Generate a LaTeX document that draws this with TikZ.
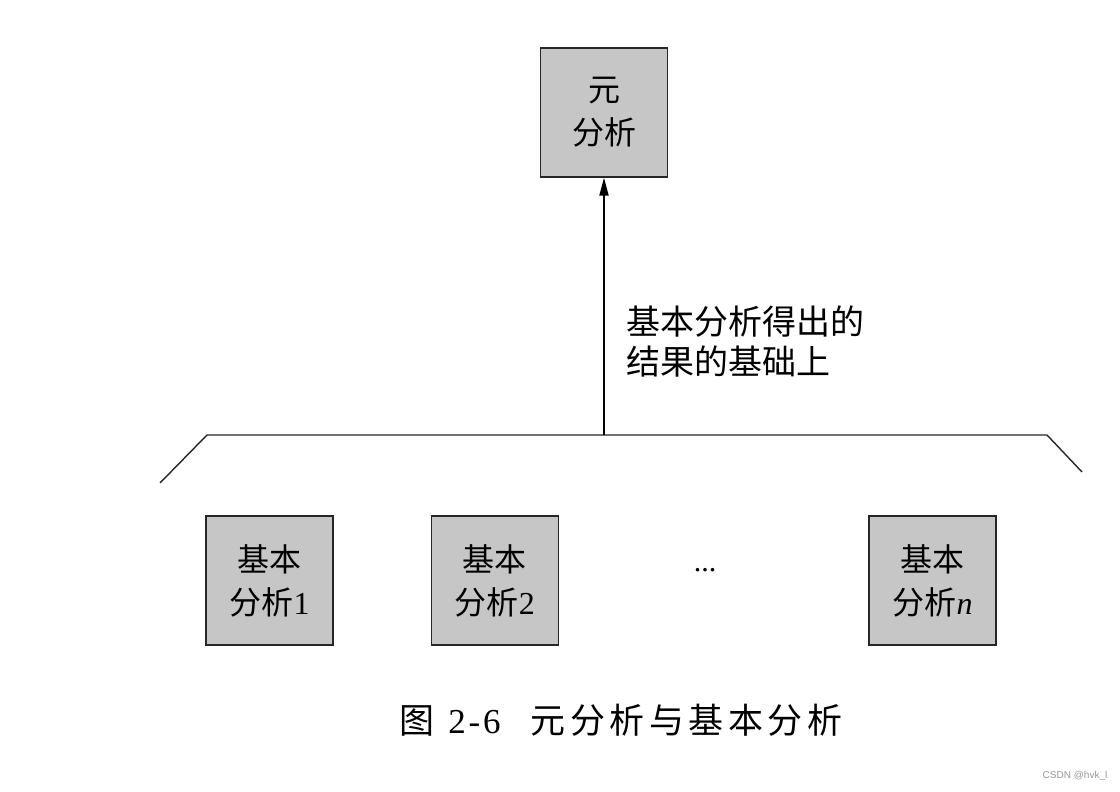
\documentclass[tikz,border=0pt]{standalone}
\usepackage{fontspec}
\newfontfamily\cjk{Noto Sans CJK SC}
\newfontfamily\cjkcap[LetterSpace=13]{Noto Sans CJK SC}
\newfontfamily\latin{Liberation Serif}
\newfontfamily\latincap[LetterSpace=8]{Liberation Serif}
\newfontfamily\wmfont{Liberation Sans}
\usetikzlibrary{arrows.meta,positioning}
\definecolor{boxgrey}{RGB}{198,198,198}
\definecolor{wmgrey}{RGB}{150,150,150}
\tikzset{
  blk/.style={draw=black!85, fill=boxgrey, line width=1.3pt,
              minimum width=127pt, minimum height=129pt, inner sep=0pt,
              align=center, font=\cjk\fontsize{32}{43}\selectfont},
  lbl/.style={align=left, inner sep=0pt, font=\cjk\fontsize{34}{40}\selectfont},
  ar/.style={-{Triangle[length=18pt,width=9pt]}, draw=black, line width=2pt},
  brk/.style={draw=black!85, line width=1.4pt},
}
\begin{document}
\begin{tikzpicture}[x=1pt, y=-1pt, node distance=97pt]
\useasboundingbox (0,0) rectangle (1120,792);
% top box
\node[blk] (meta) at (604,112.5) {元\\分析};
% bottom boxes
\node[blk] (b1) at (269.5,580.5) {基本\\分析{\latin 1}};
\node[blk, right=of b1] (b2) {基本\\分析{\latin 2}};
\node[blk] (bn) at (932.5,580.5) {基本\\分析{\latin\itshape n}};
\node[font=\latin\fontsize{30}{30}\selectfont] (dots) at (705,570) {...};
% bracket
\coordinate (bl) at (160,483);
\coordinate (blc) at (207,435);
\coordinate (bm) at (604,435);
\coordinate (brc) at (1047,435);
\coordinate (br) at (1082,472);
\draw[brk] (bl) -- (blc) -- (brc) -- (br);
\draw[ar] (bm) -- (meta.south);
\node[lbl, anchor=west] (why) at (626,342) {基本分析得出的\\结果的基础上};
% caption
\node[font=\cjkcap\fontsize{35}{35}\selectfont] (cap) at (621,720) {图\hspace{14pt}{\latincap 2-6}\hspace{30pt}元分析与基本分析};
\node[font=\wmfont\fontsize{10}{10}\selectfont, text=wmgrey] (wm) at (1075,776) {CSDN @hvk\_l};
\end{tikzpicture}
\end{document}
